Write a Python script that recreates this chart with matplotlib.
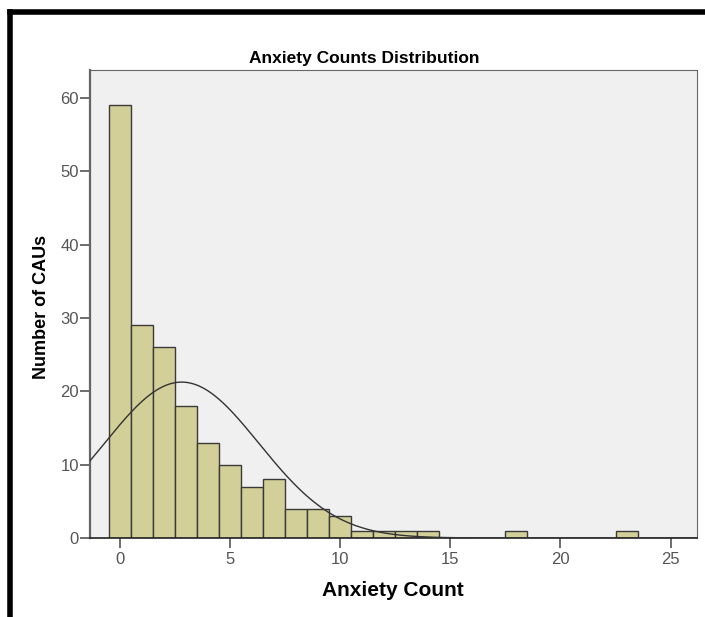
import numpy as np
import matplotlib
matplotlib.use("Agg")
import matplotlib.pyplot as plt
from matplotlib.lines import Line2D

plt.rcParams['font.family'] = ['Liberation Sans', 'DejaVu Sans']

# anxiety count per CAU (bins of width 1) and number of CAUs in each
counts = list(range(0, 24))
freq = [59, 29, 26, 18, 13, 10, 7, 8, 4, 4, 3, 1, 1, 1, 1, 0, 0, 0, 1, 0, 0, 0, 0, 1]
xticks = [0, 5, 10, 15, 20, 25]
yticks = [0, 10, 20, 30, 40, 50, 60]

fig = plt.figure(figsize=(7.05, 6.17), dpi=100)
ax = fig.add_axes([90/705, 79/617, 607/705, 468/617])
ax.set_facecolor('#f0f0f0')

vals = np.array(counts)
f = np.array(freq)
keep = f > 0
ax.bar(vals[keep], f[keep], width=1.0, color='#d3cf98', edgecolor='#3a3a3a', linewidth=1.0, zorder=2)

# normal curve using mean / sd of the data
n = f.sum()
mu = (vals * f).sum() / n
sd = np.sqrt(((vals - mu) ** 2 * f).sum() / (n - 1))
xs = np.linspace(-1.4, 26.3, 400)
ys = n / (sd * np.sqrt(2 * np.pi)) * np.exp(-(xs - mu) ** 2 / (2 * sd ** 2))
ax.plot(xs, ys, color='#333333', linewidth=1.0, zorder=3)

ax.set_xlim(-1.36, 26.2)
ax.set_ylim(0, 63.8)
ax.set_xticks(xticks)
ax.set_yticks(yticks)
ax.tick_params(axis='both', direction='out', length=7, width=1.2, color='#555555',
               labelsize=12, labelcolor='#555555', pad=1)
ax.tick_params(axis='x', pad=3)
for s in ['top', 'right']:
    ax.spines[s].set_color('#666666')
ax.spines['left'].set_color('#666666')
ax.spines['left'].set_linewidth(1.6)
ax.spines['bottom'].set_color('#222222')
ax.spines['bottom'].set_linewidth(1.2)

fig.text(364/705, 1 - 58/617, 'Anxiety Counts Distribution', ha='center', va='center',
         fontsize=12.5, fontweight='bold')
fig.text(393/705, 1 - 590/617, 'Anxiety Count', ha='center', va='center',
         fontsize=15, fontweight='bold')
fig.text(42/705, 1 - 307/617, 'Number of CAUs', ha='center', va='center',
         rotation=90, fontsize=13, fontweight='bold')

# black outer border (top and left)
fig.add_artist(Line2D([10/705, 1], [1 - 12/617, 1 - 12/617], color='black', linewidth=4,
                      transform=fig.transFigure))
fig.add_artist(Line2D([10/705, 10/705], [1 - 12/617, 0], color='black', linewidth=4,
                      transform=fig.transFigure))

fig.savefig('out.png', dpi=100)
